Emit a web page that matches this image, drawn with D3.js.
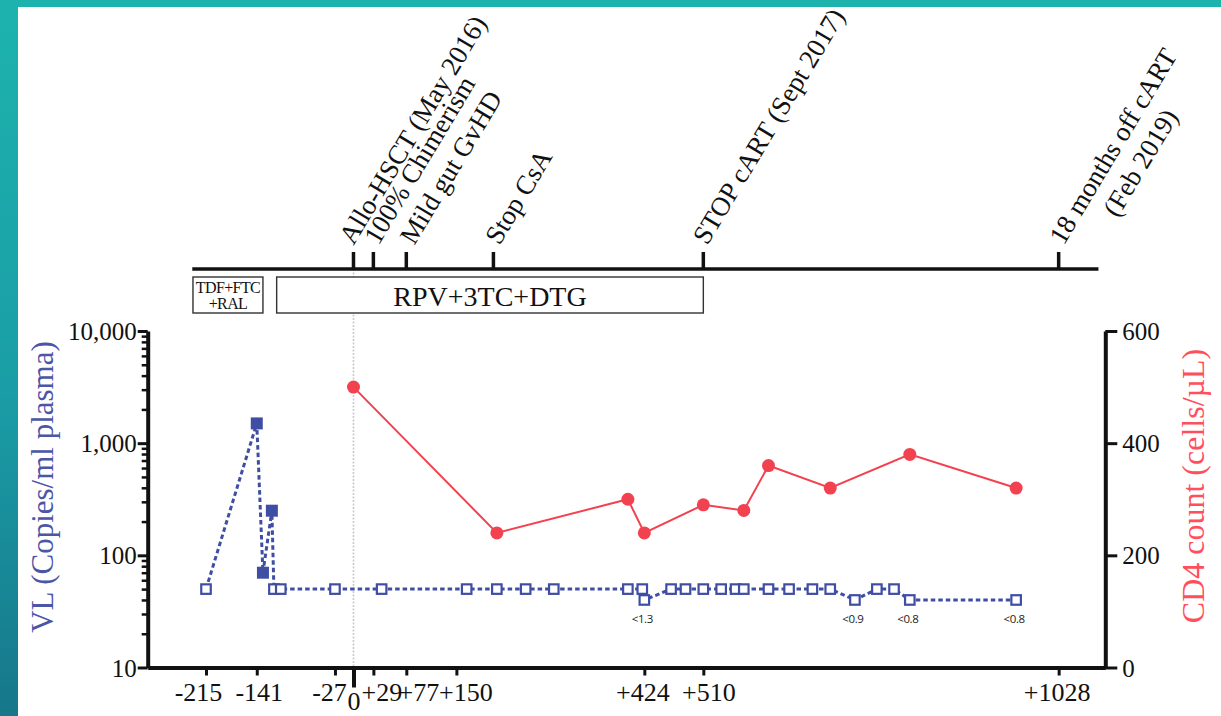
<!DOCTYPE html>
<html>
<head>
<meta charset="utf-8">
<script src="https://cdn.jsdelivr.net/npm/d3@7"></script>
<style>
  html, body { margin: 0; padding: 0; }
  body { width: 1221px; height: 716px; overflow: hidden; }
  svg { display: block; }
</style>
</head>
<body>
<svg id="chart" width="1221" height="716"></svg>
<script>
// ---- Viral load (copies/ml plasma), days relative to allo-HSCT ----
const vlDays     = [-215, -141, -132, -119, -116, -106, -27, 41, 165, 209, 251, 292, 400, 421, 424, 463, 484, 510, 536, 557, 569, 605, 635, 669, 695, 731, 763, 788, 811, 966];
const vlValues   = [50, 1500, 70, 250, 50, 50, 50, 50, 50, 50, 50, 50, 50, 50, 40, 50, 50, 50, 50, 50, 50, 50, 50, 50, 50, 40, 50, 50, 40, 40];
const vlDetected = [false, true, true, true, false, false, false, false, false, false, false, false, false, false, false, false, false, false, false, false, false, false, false, false, false, false, false, false, false, false];

// ultrasensitive assay results (copies/ml) noted under the matching samples
const noteDays  = [424, 731, 811, 966];
const noteTexts = ["<1.3", "<0.9", "<0.8", "<0.8"];

// ---- CD4 count (cells/µL) ----
const cd4Days   = [0, 209, 400, 424, 510, 569, 605, 695, 811, 966];
const cd4Values = [500, 240, 300, 240, 290, 280, 360, 320, 380, 320];

// ---- Axis ticks ----
const dayTicks  = [-215, -141, -27, 0, 29, 77, 150, 424, 510, 1028];
const vlTicks   = [10, 100, 1000, 10000];
const cd4Ticks  = [0, 200, 400, 600];

// ---- Clinical events on the timeline ----
const eventDays   = [0, 29, 77, 204, 510, 1028];
const eventLabels = [["Allo-HSCT (May 2016)"], ["100% Chimerism"], ["Mild gut GvHD"], ["Stop CsA"], ["STOP cART (Sept 2017)"], ["18 months off cART", "(Feb 2019)"]];
const timelineSpan = [-235, 1086];

// ---- Treatment regimens ----
const regimenNames = [["TDF+FTC", "+RAL"], ["RPV+3TC+DTG"]];
const regimenStart = [-234, -112];
const regimenEnd   = [-132, 510];

const SERIF = "'Liberation Serif', 'Times New Roman', serif";
const BLUE = "#3f4ea3", RED = "#f3424f";

const svg = d3.select("#chart");

// slide background and white panel
const defs = svg.append("defs");
const grad = defs.append("linearGradient").attr("id", "bg").attr("x1", 0).attr("y1", 0).attr("x2", 0).attr("y2", 1);
grad.append("stop").attr("offset", "0%").attr("stop-color", "#1db3ad");
grad.append("stop").attr("offset", "55%").attr("stop-color", "#1a9da6");
grad.append("stop").attr("offset", "100%").attr("stop-color", "#16778b");
svg.append("rect").attr("width", 1221).attr("height", 716).attr("fill", "url(#bg)");
svg.append("rect").attr("x", 18).attr("y", 7).attr("width", 1203).attr("height", 709).attr("fill", "#ffffff");

// scales
const x = d3.scaleLinear().domain([-300, 1096]).range([147.7, 1105.3]);
const yVL = d3.scaleLog().domain([10, 10000]).range([667.5, 331]);
const yCD4 = d3.scaleLinear().domain([0, 600]).range([667.5, 331]);

// day-0 reference line
svg.append("line")
  .attr("x1", x(0)).attr("x2", x(0)).attr("y1", 262).attr("y2", 667)
  .attr("stroke", "#c9c9c9").attr("stroke-width", 1.6).attr("stroke-dasharray", "2,1.5");

// timeline
const tl = svg.append("g");
tl.append("line")
  .attr("x1", x(timelineSpan[0])).attr("x2", x(timelineSpan[1]))
  .attr("y1", 269).attr("y2", 269)
  .attr("stroke", "#111").attr("stroke-width", 3.5);
tl.selectAll("line.ev").data(eventDays).join("line").attr("class", "ev")
  .attr("x1", d => x(d)).attr("x2", d => x(d)).attr("y1", 252).attr("y2", 269)
  .attr("stroke", "#111").attr("stroke-width", 3.5);

const labelNudge = [0, 5, 8, 6, 4, 5];
eventLabels.forEach((lines, i) => {
  const g = tl.append("g")
    .attr("transform", `translate(${x(eventDays[i]) + labelNudge[i]},246) rotate(-59)`);
  const first = g.append("text").text(lines[0])
    .attr("font-family", SERIF).attr("font-size", 27).attr("fill", "#111");
  if (lines.length > 1) {
    const len1 = first.node().getComputedTextLength();
    g.append("text").text(lines[1])
      .attr("x", len1 / 2).attr("y", 32).attr("text-anchor", "middle")
      .attr("font-family", SERIF).attr("font-size", 27).attr("fill", "#111");
  }
});

// regimen boxes
regimenNames.forEach((names, i) => {
  const x0 = x(regimenStart[i]), x1 = x(regimenEnd[i]);
  tl.append("rect").attr("x", x0).attr("y", 277).attr("width", x1 - x0).attr("height", 36)
    .attr("fill", "#fff").attr("stroke", "#333").attr("stroke-width", 1.4);
  if (names.length === 1) {
    tl.append("text").text(names[0]).attr("x", (x0 + x1) / 2).attr("y", 306)
      .attr("text-anchor", "middle").attr("font-family", SERIF).attr("font-size", 28).attr("fill", "#111");
  } else {
    names.forEach((n, k) => {
      tl.append("text").text(n).attr("x", (x0 + x1) / 2).attr("y", 293 + k * 16)
        .attr("text-anchor", "middle").attr("font-family", SERIF).attr("font-size", 16)
        .attr("letter-spacing", -0.6).attr("fill", "#111");
    });
  }
});

// left (log) axis
const axL = svg.append("g").attr("transform", `translate(${x.range()[0]},0)`)
  .call(d3.axisLeft(yVL).tickValues(vlTicks).tickFormat(d3.format(",")).tickSize(10).tickSizeOuter(0).tickPadding(1));
const minor = [];
[10, 100, 1000].forEach(dec => { for (let k = 2; k <= 9; k++) minor.push(k * dec); });
svg.append("g").attr("transform", `translate(${x.range()[0]},0)`)
  .call(d3.axisLeft(yVL).tickValues(minor).tickFormat("").tickSize(6).tickSizeOuter(0))
  .call(g => g.select(".domain").remove())
  .selectAll("line").attr("stroke", "#111").attr("stroke-width", 2.5);

// right (CD4) axis
const axR = svg.append("g").attr("transform", `translate(${x.range()[1]},0)`)
  .call(d3.axisRight(yCD4).tickValues(cd4Ticks).tickSize(12).tickSizeOuter(0).tickPadding(5));

// bottom (days) axis
const axB = svg.append("g").attr("transform", `translate(0,${yVL.range()[0]})`)
  .call(d3.axisBottom(x).tickValues(dayTicks).tickSize(8).tickSizeOuter(0)
    .tickFormat(d => d > 0 ? "+" + d : d < 0 ? "-" + Math.abs(d) : "0"));

[axL, axR, axB].forEach(a => {
  a.select(".domain").attr("stroke", "#111").attr("stroke-width", 4);
  a.selectAll(".tick line").attr("stroke", "#111").attr("stroke-width", 3);
  a.selectAll(".tick text").attr("font-family", SERIF).attr("fill", "#111");
});
axL.selectAll(".tick text").attr("font-size", 25).attr("dy", "0.34em");
axR.selectAll(".tick text").attr("font-size", 25).attr("dy", "0.34em");

const tickNudge = { "-215": -8, "-141": 2, "-27": -6, "29": 8, "77": 12, "150": 9, "424": -2, "510": 5, "1028": -2 };
axB.selectAll(".tick text")
  .attr("font-size", 26).attr("dy", 0)
  .attr("y", d => d === 0 ? 42 : 33)
  .attr("x", d => tickNudge[d] || 0);
axB.selectAll(".tick line").filter(d => d === 0)
  .attr("y2", 20).attr("stroke-width", 4);

// axis titles
svg.append("text").text("VL (Copies/ml plasma)")
  .attr("transform", "translate(53,487) rotate(-90)")
  .attr("text-anchor", "middle").attr("font-family", SERIF).attr("font-size", 31).attr("fill", "#4b56a6");
svg.append("text").text("CD4 count (cells/µL)")
  .attr("transform", "translate(1204,486) rotate(-90)")
  .attr("text-anchor", "middle").attr("font-family", SERIF).attr("font-size", 32).attr("fill", "#ff4f5c");

// viral load series
const vlData = vlDays.map((d, i) => ({ day: d, v: vlValues[i], det: vlDetected[i] }));
svg.append("path").datum(vlData)
  .attr("d", d3.line().x(d => x(d.day)).y(d => yVL(d.v)))
  .attr("fill", "none").attr("stroke", BLUE).attr("stroke-width", 3).attr("stroke-dasharray", "4.5,3");

// CD4 series
const cd4Data = cd4Days.map((d, i) => ({ day: d, v: cd4Values[i] }));
svg.append("path").datum(cd4Data)
  .attr("d", d3.line().x(d => x(d.day)).y(d => yCD4(d.v)))
  .attr("fill", "none").attr("stroke", RED).attr("stroke-width", 2);
svg.selectAll("circle.cd4").data(cd4Data).join("circle").attr("class", "cd4")
  .attr("cx", d => x(d.day)).attr("cy", d => yCD4(d.v)).attr("r", 6.5)
  .attr("fill", RED);

// viral load markers: filled = detectable, open = below limit
svg.selectAll("rect.vl").data(vlData).join("rect").attr("class", "vl")
  .each(function (d) {
    const s = d.det ? 12 : 9.5;
    d3.select(this)
      .attr("x", x(d.day) - s / 2).attr("y", yVL(d.v) - s / 2)
      .attr("width", s).attr("height", s)
      .attr("fill", d.det ? BLUE : "#fff")
      .attr("stroke", BLUE).attr("stroke-width", d.det ? 0 : 2.2);
  });

// ultrasensitive assay notes
noteDays.forEach((d, i) => {
  const v = vlValues[vlDays.indexOf(d)];
  svg.append("text").text(noteTexts[i])
    .attr("x", x(d) - 2).attr("y", yVL(v) + 23)
    .attr("text-anchor", "middle").attr("font-family", "'Open Sans', sans-serif")
    .attr("font-size", 11.5).attr("letter-spacing", -0.4).attr("fill", "#222");
});
</script>
</body>
</html>
